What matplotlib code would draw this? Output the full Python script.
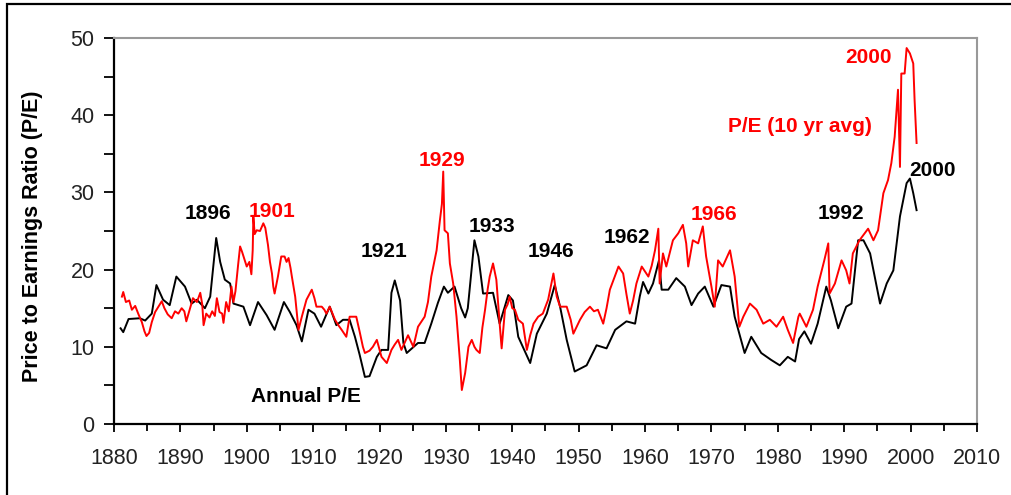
import matplotlib
matplotlib.use("Agg")
import matplotlib.pyplot as plt
from matplotlib.patches import Rectangle
from matplotlib.ticker import MultipleLocator

plt.rcParams['font.family'] = ['Liberation Sans', 'DejaVu Sans']

# Annual P/E (black)
annual_years = [1881.0, 1881.4, 1882.2, 1883.9, 1884.7, 1885.7, 1886.4, 1887.4, 1888.4, 1889.4,
                1890.7, 1891.7, 1892.5, 1893.7, 1894.5, 1895.4, 1896.0, 1896.7, 1897.5, 1898.0,
                1899.5, 1900.5, 1901.7, 1903.0, 1904.2, 1905.6, 1906.5, 1907.5, 1908.3, 1909.3,
                1910.2, 1911.2, 1912.5, 1913.5, 1914.5, 1915.5, 1916.3, 1917.0, 1917.8, 1918.5,
                1919.6, 1920.3, 1921.3, 1921.8, 1922.3, 1923.1, 1923.6, 1924.1, 1925.8, 1926.8,
                1927.8, 1928.8, 1929.7, 1930.3, 1931.3, 1932.3, 1932.9, 1933.3, 1934.3, 1934.9,
                1935.6, 1937.1, 1938.1, 1939.4, 1940.1, 1940.9, 1942.7, 1943.7, 1945.2, 1946.4,
                1947.2, 1948.2, 1949.4, 1951.2, 1952.7, 1954.2, 1955.5, 1957.2, 1958.5, 1959.2,
                1959.7, 1960.5, 1961.2, 1962.1, 1962.5, 1963.5, 1964.7, 1966.0, 1967.0, 1968.0,
                1969.0, 1970.3, 1971.5, 1972.8, 1973.5, 1975.0, 1976.0, 1977.5, 1979.0, 1980.3,
                1981.5, 1982.6, 1983.2, 1984.0, 1985.0, 1986.0, 1987.3, 1988.0, 1989.1, 1990.3,
                1991.1, 1992.1, 1992.9, 1993.9, 1995.4, 1996.4, 1997.4, 1998.4, 1999.4, 1999.9,
                2000.4, 2000.9]
annual_pe = [12.4, 11.9, 13.6, 13.7, 13.4, 14.3, 18.0, 16.1, 15.4, 19.1,
             17.8, 15.6, 16.1, 15.0, 16.5, 24.1, 21.0, 18.7, 18.2, 15.6,
             15.2, 12.8, 15.8, 14.1, 12.2, 15.8, 14.5, 12.8, 10.7, 14.8,
             14.3, 12.6, 15.2, 12.8, 13.5, 13.5, 11.3, 9.0, 6.1, 6.2,
             8.7, 9.6, 9.6, 17.0, 18.6, 16.0, 10.5, 9.2, 10.5, 10.5,
             13.0, 15.7, 17.8, 17.0, 17.8, 15.0, 13.8, 15.0, 23.8, 21.7,
             16.9, 17.0, 13.0, 16.7, 16.0, 11.3, 7.9, 11.7, 14.3, 18.0,
             15.2, 10.9, 6.8, 7.6, 10.2, 9.8, 12.2, 13.3, 13.0, 16.5,
             18.4, 16.9, 18.2, 21.2, 17.4, 17.4, 18.9, 17.8, 15.4, 16.9,
             17.8, 15.2, 18.0, 17.8, 13.9, 9.2, 11.3, 9.2, 8.3, 7.6,
             8.7, 8.1, 11.0, 12.0, 10.4, 13.0, 17.8, 16.0, 12.4, 15.2,
             15.6, 23.8, 23.8, 22.1, 15.6, 18.2, 19.9, 26.9, 31.2, 31.8,
             29.9, 27.7]

# P/E on 10 year average earnings (red)
avg_years = [1881.2, 1881.4, 1881.8, 1882.3, 1882.7, 1883.2, 1883.7, 1884.2, 1884.6, 1884.9,
             1885.3, 1885.7, 1886.2, 1886.7, 1887.2, 1887.6, 1888.1, 1888.7, 1889.2, 1889.7,
             1890.2, 1890.6, 1890.9, 1891.4, 1891.9, 1892.5, 1893.0, 1893.3, 1893.5, 1893.9,
             1894.4, 1894.8, 1895.2, 1895.5, 1895.9, 1896.3, 1896.5, 1896.9, 1897.3, 1897.7,
             1898.0, 1898.3, 1898.7, 1899.0, 1899.3, 1899.6, 1900.0, 1900.4, 1900.7, 1900.9,
             1901.0, 1901.2, 1901.5, 1902.0, 1902.5, 1902.8, 1903.2, 1903.5, 1903.8, 1904.0,
             1904.2, 1904.7, 1905.2, 1905.7, 1906.0, 1906.3, 1906.6, 1906.8, 1907.3, 1907.8,
             1908.3, 1909.0, 1909.8, 1910.2, 1910.5, 1911.3, 1911.7, 1912.0, 1912.5, 1913.3,
             1913.8, 1914.3, 1915.0, 1915.5, 1916.5, 1917.0, 1917.5, 1917.8, 1918.5, 1919.0,
             1919.6, 1920.3, 1921.1, 1921.8, 1922.3, 1922.8, 1923.3, 1924.3, 1925.1, 1925.8,
             1926.8, 1927.3, 1927.8, 1928.6, 1929.1, 1929.4, 1929.6, 1929.8, 1930.3, 1930.6,
             1931.1, 1931.6, 1932.1, 1932.4, 1932.9, 1933.4, 1933.9, 1934.3, 1934.6, 1935.1,
             1935.5, 1935.9, 1936.3, 1936.6, 1937.1, 1937.6, 1938.1, 1938.4, 1938.9, 1939.3,
             1939.6, 1940.0, 1940.4, 1940.9, 1941.6, 1942.2, 1942.7, 1943.2, 1943.9, 1944.6,
             1945.4, 1946.2, 1946.7, 1947.2, 1948.2, 1948.8, 1949.2, 1950.2, 1950.9, 1951.7,
             1952.3, 1952.9, 1953.7, 1954.2, 1954.7, 1955.4, 1956.0, 1956.7, 1957.2, 1957.7,
             1958.2, 1958.7, 1959.5, 1960.5, 1961.0, 1961.5, 1962.0, 1962.2, 1962.7, 1963.2,
             1964.2, 1965.0, 1965.7, 1966.2, 1966.5, 1967.2, 1968.0, 1968.7, 1969.2, 1970.0,
             1970.5, 1971.0, 1971.7, 1972.8, 1973.5, 1974.2, 1974.8, 1975.8, 1976.8, 1977.8,
             1978.8, 1979.8, 1980.8, 1981.5, 1982.3, 1983.1, 1983.3, 1984.3, 1985.3, 1986.0,
             1987.0, 1987.6, 1987.8, 1988.6, 1989.6, 1990.3, 1990.8, 1991.3, 1992.3, 1993.6,
             1994.4, 1995.1, 1995.9, 1996.6, 1997.1, 1997.6, 1998.1, 1998.4, 1998.6, 1999.1,
             1999.4, 1999.9, 2000.4, 2000.6, 2000.9]
avg_pe = [16.5, 17.1, 15.8, 16.0, 14.8, 15.3, 14.2, 13.2, 12.0, 11.4,
          11.8, 13.2, 14.5, 15.2, 15.9, 15.0, 14.2, 13.7, 14.6, 14.3,
          15.0, 14.6, 13.3, 14.8, 16.3, 15.8, 17.0, 15.5, 12.8, 14.3,
          13.8, 14.6, 14.0, 16.3, 14.5, 14.3, 13.1, 15.8, 14.6, 17.8,
          15.8, 17.2, 20.6, 23.0, 22.3, 21.5, 20.4, 21.0, 19.4, 22.5,
          26.8, 24.6, 25.1, 25.0, 26.0, 25.4, 23.2, 21.0, 19.5, 17.8,
          16.9, 19.1, 21.7, 21.7, 21.0, 21.5, 20.2, 19.1, 16.5, 12.2,
          13.9, 16.1, 17.4, 16.3, 15.2, 15.2, 14.8, 14.3, 15.2, 13.5,
          12.8, 12.2, 11.3, 13.9, 13.9, 12.0, 10.0, 9.2, 9.5, 10.0,
          10.9, 8.7, 7.9, 9.6, 10.3, 10.9, 9.6, 11.5, 10.0, 12.6,
          13.9, 15.8, 19.1, 22.5, 26.4, 28.5, 32.7, 25.1, 24.7, 20.8,
          18.2, 13.9, 8.3, 4.4, 6.6, 10.0, 10.9, 10.0, 9.6, 9.2,
          12.5, 14.8, 17.5, 19.1, 20.8, 18.7, 13.0, 9.8, 14.8, 15.5,
          16.5, 15.0, 14.8, 13.5, 13.0, 9.6, 11.5, 13.0, 13.9, 14.3,
          16.1, 19.5, 16.5, 15.2, 15.2, 13.5, 11.7, 13.5, 14.5, 15.2,
          14.6, 14.8, 13.0, 15.0, 17.4, 19.0, 20.4, 19.5, 16.8, 14.3,
          16.0, 18.2, 20.4, 19.1, 20.5, 22.5, 25.3, 18.2, 22.1, 20.4,
          23.8, 24.7, 25.8, 23.4, 20.4, 23.8, 23.4, 25.6, 21.7, 17.8,
          15.2, 21.2, 20.4, 22.5, 19.1, 12.6, 13.9, 15.6, 14.8, 13.0,
          13.5, 12.6, 13.9, 12.2, 10.5, 13.9, 14.3, 12.6, 14.8, 17.8,
          21.2, 23.4, 16.9, 18.2, 21.2, 19.9, 18.2, 22.1, 23.8, 25.3,
          23.8, 25.1, 29.9, 31.6, 33.8, 37.2, 43.3, 33.3, 45.4, 45.4,
          48.7, 48.0, 46.7, 42.0, 36.4]

# peak labels: (text, year, value, colour)
peak_labels = [("1896", 1894.2, 27.3, "black"), ("1901", 1903.8, 27.5, "red"),
               ("1921", 1920.7, 22.3, "black"), ("1929", 1929.4, 34.1, "red"),
               ("1933", 1936.9, 25.6, "black"), ("1946", 1945.8, 22.3, "black"),
               ("1962", 1957.3, 24.1, "black"), ("1966", 1970.4, 27.2, "red"),
               ("1992", 1989.5, 27.3, "black"), ("2000", 1993.7, 47.5, "red"),
               ("2000", 2003.3, 32.9, "black"),
               ("P/E (10 yr avg)", 1983.3, 38.5, "red"),
               ("Annual P/E", 1908.9, 3.5, "black")]

fig = plt.figure(figsize=(10.12, 4.95), dpi=100)
ax = fig.add_axes([0.1126, 0.1434, 0.8528, 0.7798])

ax.plot(annual_years, annual_pe, color="black", lw=1.4)
ax.plot(avg_years, avg_pe, color="#ff0000", lw=1.4)

for txt, x, y, col in peak_labels:
    ax.text(x, y, txt, color=col, fontsize=15, fontweight="bold", ha="center", va="center")

ax.set_xlim(1880, 2010)
ax.set_ylim(0, 50)
ax.xaxis.set_major_locator(MultipleLocator(10))
ax.xaxis.set_minor_locator(MultipleLocator(5))
ax.yaxis.set_major_locator(MultipleLocator(10))
ax.yaxis.set_minor_locator(MultipleLocator(5))
ax.tick_params(axis="both", which="both", direction="out", width=1.3, colors="black")
ax.tick_params(axis="x", which="major", length=6, pad=11, labelsize=15.5)
ax.tick_params(axis="x", which="minor", length=5)
ax.tick_params(axis="y", which="major", length=7, pad=7, labelsize=15.5)
ax.tick_params(axis="y", which="minor", length=7)
for lab in ax.get_xticklabels() + ax.get_yticklabels():
    lab.set_color("#222222")

ax.spines["left"].set_linewidth(1.6)
ax.spines["bottom"].set_linewidth(1.6)
ax.spines["top"].set_color("#999999")
ax.spines["right"].set_color("#999999")
ax.spines["top"].set_linewidth(1.5)
ax.spines["right"].set_linewidth(1.5)

ax.set_ylabel("Price to Earnings Ratio (P/E)", fontsize=15.5, fontweight="bold")
ax.yaxis.set_label_coords(-0.0823, 0.487)

# outer frame (only left and top edges visible in the screenshot)
fig.patches.append(Rectangle((7.5 / 1012, -0.1), 1.2, 1.1 - 4.5 / 495,
                             transform=fig.transFigure, fill=False, lw=1.6, ec="black"))

fig.savefig("out.png", dpi=100)
